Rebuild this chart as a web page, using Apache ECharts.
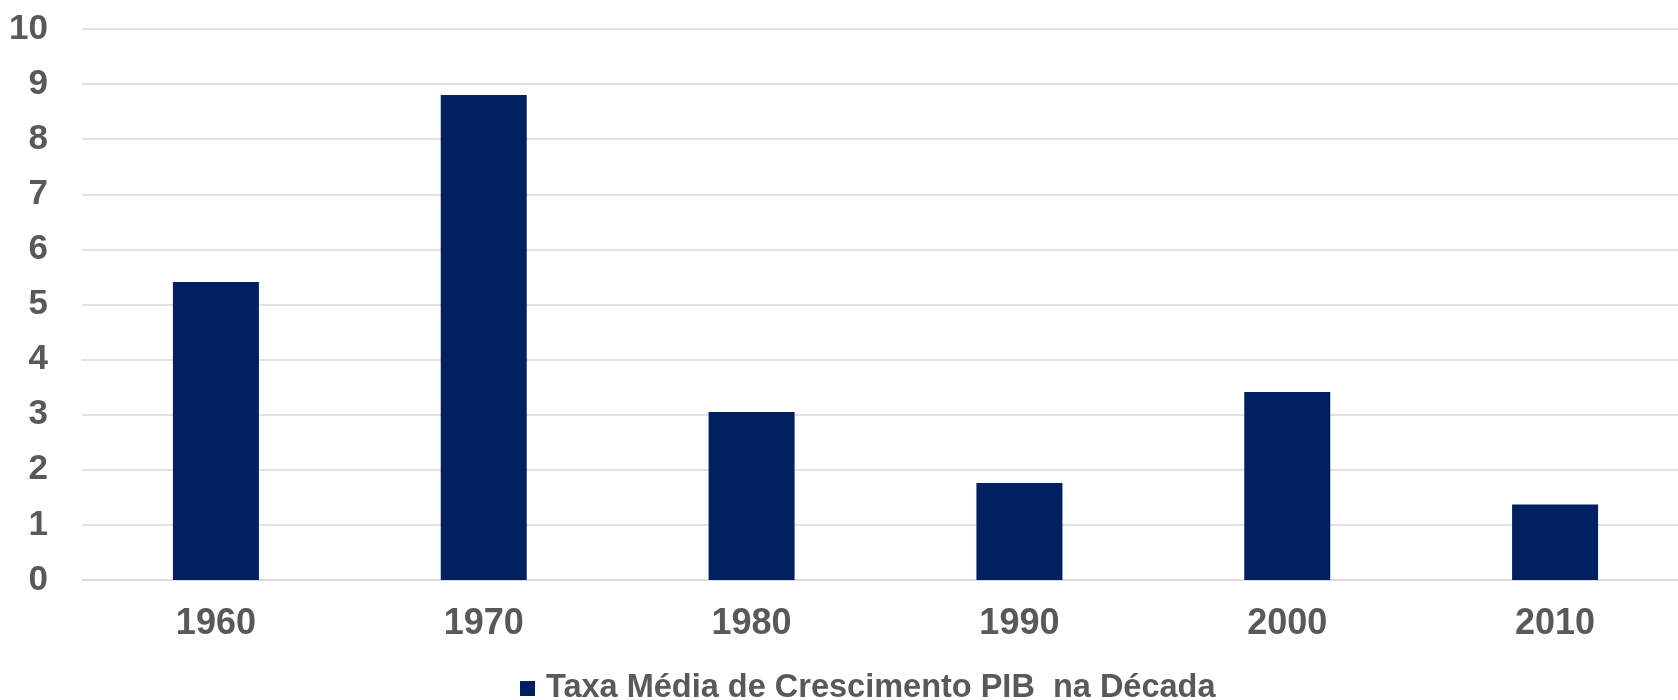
<!DOCTYPE html>
<html>
<head>
<meta charset="utf-8">
<script src="https://cdn.jsdelivr.net/npm/echarts@6/dist/echarts.min.js"></script>
<style>
  html, body { margin: 0; padding: 0; background: #fff; }
  #chart { width: 1678px; height: 700px; }
</style>
</head>
<body>
<div id="chart"></div>
<script>
// decades and average GDP growth per decade (%)
const decades = ['1960', '1970', '1980', '1990', '2000', '2010'];
const growth = [5.41, 8.80, 3.05, 1.76, 3.41, 1.37];
const seriesName = 'Taxa Média de Crescimento PIB  na Década';

let myChart = echarts.init(document.getElementById('chart'));
const font = '"Liberation Sans", Arial, sans-serif';
myChart.setOption({
    animation: false,
    grid: {
        left: 82,
        top: 29,
        width: 1607,
        height: 551,
        outerBoundsMode: 'none'
    },
    legend: {
        left: 515,
        top: 667,
        itemWidth: 15,
        itemHeight: 15,
        icon: 'rect',
        textStyle: {
            fontFamily: font,
            fontSize: 32.5,
            fontWeight: 'bold',
            color: '#595959',
            padding: [0, 0, 0, 6]
        },
        data: [seriesName]
    },
    xAxis: {
        type: 'category',
        data: decades,
        axisLine: { lineStyle: { color: '#d9d9d9', width: 1.5 } },
        axisTick: { show: false },
        axisLabel: {
            margin: 26,
            fontFamily: font,
            fontSize: 36,
            fontWeight: 'bold',
            color: '#595959'
        }
    },
    yAxis: {
        type: 'value',
        min: 0,
        max: 10,
        interval: 1,
        axisLine: { show: false },
        axisTick: { show: false },
        splitLine: { lineStyle: { color: '#d9d9d9', width: 1.5 } },
        axisLabel: {
            margin: 34,
            fontFamily: font,
            fontSize: 35,
            fontWeight: 'bold',
            color: '#595959'
        }
    },
    series: [
        {
            name: seriesName,
            type: 'bar',
            barWidth: 86,
            itemStyle: { color: '#002060' },
            data: growth
        }
    ]
});
</script>
</body>
</html>
